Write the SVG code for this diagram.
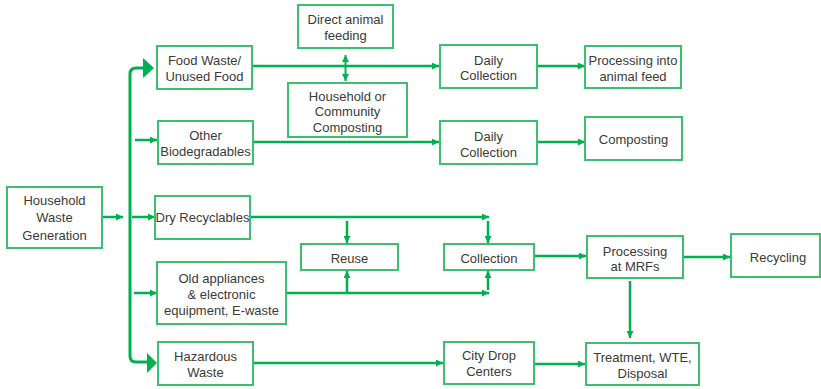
<svg xmlns="http://www.w3.org/2000/svg" width="821" height="389" viewBox="0 0 821 389">
<defs>
<marker id="ah" viewBox="0 0 8 8" refX="8" refY="4" markerWidth="7" markerHeight="7" markerUnits="userSpaceOnUse" orient="auto-start-reverse">
<path d="M0,0 L8,4 L0,8 z" fill="#00b050"/>
</marker>
<style>
.box{fill:#ffffff;stroke:#3cbf6e;stroke-width:2}
.t{font-family:"Liberation Sans",Arial,sans-serif;font-size:13px;fill:#3a3a3a;text-anchor:middle}
.ln{fill:none;stroke:#00b050;stroke-width:2.5}
.ar{fill:none;stroke:#00b050;stroke-width:2.5;marker-end:url(#ah)}
.big{fill:#00b050}
</style>
</defs>
<rect width="821" height="389" fill="#ffffff"/>
<g id="connectors">
<path class="ln" d="M146,68 H136 Q130,68 130,74 V356 Q130,362 136,362 H150" style="stroke-width:3"/>
<polygon class="big" points="143,58 154,68 143,78"/>
<polygon class="big" points="147,353 157,363 147,373"/>
<line class="ar" x1="102" y1="217" x2="123" y2="217"/>
<line class="ar" x1="135" y1="140" x2="157" y2="140"/>
<line class="ar" x1="132" y1="217" x2="155" y2="217"/>
<line class="ar" x1="134" y1="293" x2="157" y2="293"/>
<line class="ar" x1="252" y1="66" x2="439" y2="66"/>
<line class="ar" x1="345.5" y1="68" x2="345.5" y2="55" style="stroke-width:2"/>
<line class="ar" x1="345.5" y1="68" x2="345.5" y2="81" style="stroke-width:2"/>
<line class="ar" x1="537" y1="66" x2="585" y2="66"/>
<line class="ar" x1="253" y1="142" x2="439" y2="142"/>
<line class="ar" x1="537" y1="142" x2="585" y2="142"/>
<line class="ar" x1="250" y1="217" x2="489" y2="217"/>
<line class="ar" x1="488" y1="221" x2="488" y2="243"/>
<line class="ar" x1="347" y1="221" x2="347" y2="243"/>
<line class="ar" x1="286" y1="293" x2="489" y2="293"/>
<line class="ar" x1="488" y1="290" x2="488" y2="271"/>
<line class="ar" x1="347" y1="294" x2="347" y2="271"/>
<line class="ar" x1="534" y1="256" x2="586" y2="256"/>
<line class="ar" x1="683" y1="257" x2="730" y2="257"/>
<line class="ar" x1="630" y1="281" x2="630" y2="338"/>
<line class="ar" x1="253" y1="363" x2="443" y2="363"/>
<line class="ar" x1="534" y1="364" x2="585" y2="364"/>
</g>
<g id="hwg"><rect class="box" x="7" y="187" width="95" height="61"/><text class="t" x="54.5" y="204.5">Household</text><text class="t" x="54.5" y="222">Waste</text><text class="t" x="54.5" y="239.5">Generation</text></g>
<g id="food"><rect class="box" x="157" y="46" width="95" height="43"/><text class="t" x="204.5" y="64.5">Food Waste/</text><text class="t" x="204.5" y="80.5">Unused Food</text></g>
<g id="direct"><rect class="box" x="298" y="5" width="95" height="43"/><text class="t" x="345.5" y="23.5">Direct animal</text><text class="t" x="345.5" y="39.5">feeding</text></g>
<g id="hoc"><rect class="box" x="288" y="83" width="119" height="54"/><text class="t" x="347.5" y="100.5">Household or</text><text class="t" x="347.5" y="116">Community</text><text class="t" x="347.5" y="131.5">Composting</text></g>
<g id="other"><rect class="box" x="158" y="121" width="95" height="43"/><text class="t" x="205.5" y="139.5">Other</text><text class="t" x="205.5" y="155.5">Biodegradables</text></g>
<g id="daily1"><rect class="box" x="440" y="45" width="97" height="43"/><text class="t" x="488.5" y="64.5">Daily</text><text class="t" x="488.5" y="80">Collection</text></g>
<g id="feed"><rect class="box" x="585" y="46" width="96" height="42"/><text class="t" x="633" y="65">Processing into</text><text class="t" x="633" y="80.5">animal feed</text></g>
<g id="daily2"><rect class="box" x="440" y="121" width="97" height="43"/><text class="t" x="488.5" y="140.5">Daily</text><text class="t" x="488.5" y="156.5">Collection</text></g>
<g id="composting"><rect class="box" x="585" y="117" width="97" height="43"/><text class="t" x="633.5" y="143.5">Composting</text></g>
<g id="dry"><rect class="box" x="155" y="196" width="95" height="43"/><text class="t" x="202.5" y="222">Dry Recyclables</text></g>
<g id="reuse"><rect class="box" x="301" y="244" width="97" height="26"/><text class="t" x="349.5" y="262.5">Reuse</text></g>
<g id="old"><rect class="box" x="157" y="262" width="129" height="62"/><text class="t" x="221.5" y="282.5">Old appliances</text><text class="t" x="221.5" y="298.5">&amp; electronic</text><text class="t" x="221.5" y="314.5">equipment, E-waste</text></g>
<g id="haz"><rect class="box" x="158" y="342" width="95" height="43"/><text class="t" x="205.5" y="360.5">Hazardous</text><text class="t" x="205.5" y="376.5">Waste</text></g>
<g id="collection"><rect class="box" x="444" y="244" width="90" height="26"/><text class="t" x="489" y="262.5">Collection</text></g>
<g id="mrf"><rect class="box" x="587" y="236" width="96" height="42"/><text class="t" x="635" y="255.5">Processing</text><text class="t" x="635" y="270.5">at MRFs</text></g>
<g id="recycling"><rect class="box" x="731" y="234" width="89" height="43"/><text class="t" x="778" y="261.5">Recycling</text></g>
<g id="city"><rect class="box" x="444" y="342" width="90" height="42"/><text class="t" x="489" y="359.5">City Drop</text><text class="t" x="489" y="375.5">Centers</text></g>
<g id="treat"><rect class="box" x="586" y="343" width="113" height="42"/><text class="t" x="642.5" y="361.5">Treatment, WTE,</text><text class="t" x="642.5" y="377.5">Disposal</text></g>
</svg>
